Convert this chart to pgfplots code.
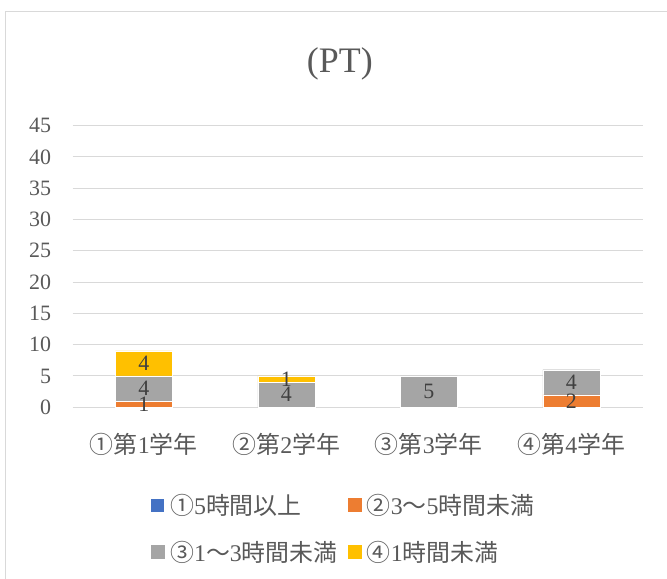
\documentclass[border=0pt]{standalone}
\usepackage{pgfplots}
\pgfplotsset{compat=1.18}
\usepackage{fontspec}
\setmainfont{Liberation Serif}
\newfontfamily\cjk{Noto Sans CJK JP}
\definecolor{cblue}{HTML}{4472C4}
\definecolor{corange}{HTML}{ED7D31}
\definecolor{cgray}{HTML}{A5A5A5}
\definecolor{cyellow}{HTML}{FFC000}
\definecolor{ctext}{HTML}{595959}
\definecolor{clabel}{HTML}{404040}
\definecolor{cgrid}{HTML}{D9D9D9}
\pgfplotsset{
  myaxis/.style={
    at={(72.5bp,171.7bp)}, anchor=south west,
    scale only axis, width=570bp, height=281.7bp,
    xmin=-0.5, xmax=3.5, ymin=0, ymax=45,
  },
  sq/.style={legend image code/.code={\fill[#1] (0bp,-6.5bp) rectangle (13bp,6.5bp);}},
}
\begin{document}
\begin{tikzpicture}
\clip (0bp,0bp) rectangle (667bp,579bp);
\fill[white] (0bp,0bp) rectangle (667bp,579bp);
\draw[cgrid, line width=1bp] (5.5bp,-20bp) -- (5.5bp,567bp) -- (700bp,567bp);
\begin{axis}[myaxis,
  ybar stacked, bar width=57bp,
  axis line style={draw=none},
  ymajorgrids, major grid style={cgrid, line width=1bp},
  ytick={0,5,...,45},
  xtick={0,1,2,3},
  xticklabels={{{\cjk ①第}1{\cjk 学年}},{{\cjk ②第}2{\cjk 学年}},{{\cjk ③第}3{\cjk 学年}},{{\cjk ④第}4{\cjk 学年}}},
  tick style={draw=none},
  /pgf/number format/assume math mode=true,
  yticklabel style={font=\fontsize{22}{22}\selectfont, text=ctext, xshift=-18bp},
  xticklabel style={font=\fontsize{24}{24}\selectfont, text=ctext, anchor=center, yshift=-37bp},
  title={(PT)},
  title style={at={(0.469,1.197)}, anchor=center, font=\fontsize{36}{36}\selectfont, text=ctext},
  legend columns=2,
  legend cell align=left,
  legend style={at={(0.137,-0.308)}, anchor=north west, draw=none, fill=none, inner sep=0pt,
    font=\fontsize{24}{24}\selectfont, text=ctext, row sep=25bp,
    nodes={inner sep=0pt},
    /tikz/every odd column/.append style={column sep=6bp},
    /tikz/every even column/.append style={column sep=10bp}},
]
\addplot[fill=cblue, draw=none, sq=cblue] coordinates {(0,0) (1,0) (2,0) (3,0)};
\addplot[fill=corange, draw=white, line width=0.4bp, sq=corange] coordinates {(0,1) (1,0) (2,0) (3,2)};
\addplot[fill=cgray, draw=white, line width=0.4bp, sq=cgray] coordinates {(0,4) (1,4) (2,5) (3,4)};
\addplot[fill=cyellow, draw=white, line width=0.4bp, sq=cyellow] coordinates {(0,4) (1,1) (2,0) (3,0)};
\legend{{{\cjk ①}5{\cjk 時間以上}},{{\cjk ②}3{\cjk ～}5{\cjk 時間未満}},{{\cjk ③}1{\cjk ～}3{\cjk 時間未満}},{{\cjk ④}1{\cjk 時間未満}}}
\end{axis}
\begin{axis}[myaxis, hide axis, clip=false]
\addplot[draw=none, mark=none, nodes near coords, point meta=explicit symbolic,
  every node near coord/.append style={anchor=center, font=\fontsize{22}{22}\selectfont, text=clabel}]
  coordinates {(0,0.5)[1] (0,3)[4] (0,7)[4] (1,2)[4] (1,4.5)[1] (2,2.5)[5] (3,1)[2] (3,4)[4]};
\end{axis}
\end{tikzpicture}
\end{document}
